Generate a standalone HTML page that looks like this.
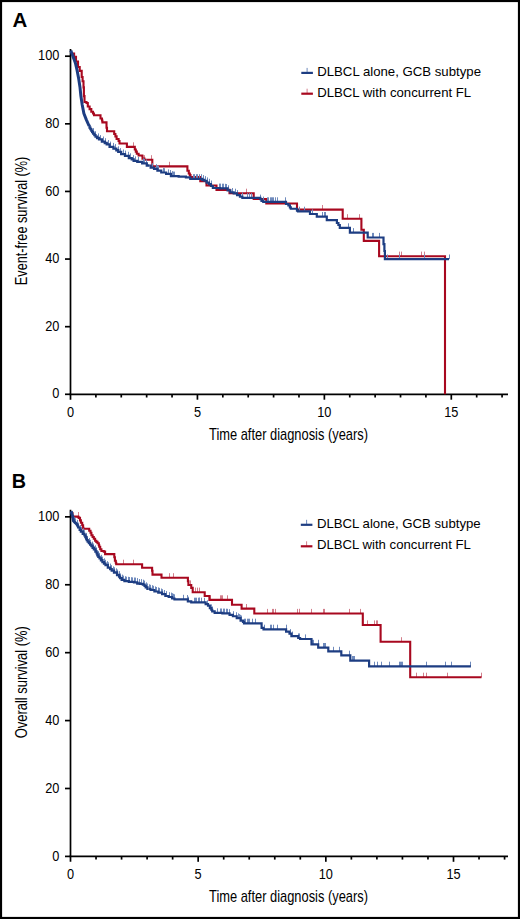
<!DOCTYPE html>
<html><head><meta charset="utf-8"><style>
html,body{margin:0;padding:0;background:#fff;overflow:hidden;}
svg{display:block;}
</style></head><body>
<svg width="520" height="919" viewBox="0 0 520 919">
<rect x="1" y="1" width="518" height="917" fill="#fff" stroke="#000" stroke-width="2.2"/>
<text x="12.4" y="27.3" font-family="&apos;Liberation Sans&apos;, sans-serif" font-weight="bold" font-size="20" textLength="14.8" lengthAdjust="spacingAndGlyphs">A</text>
<text x="11.8" y="487.6" font-family="&apos;Liberation Sans&apos;, sans-serif" font-weight="bold" font-size="20" textLength="14.3" lengthAdjust="spacingAndGlyphs">B</text>
<g stroke="#000" stroke-width="1.7" fill="none">
<line x1="70.5" y1="49.0" x2="70.5" y2="399.7"/>
<line x1="69.6" y1="394.3" x2="508" y2="394.3"/>
<line x1="65" y1="394.30" x2="70.5" y2="394.30"/>
<line x1="65" y1="326.68" x2="70.5" y2="326.68"/>
<line x1="65" y1="259.06" x2="70.5" y2="259.06"/>
<line x1="65" y1="191.44" x2="70.5" y2="191.44"/>
<line x1="65" y1="123.82" x2="70.5" y2="123.82"/>
<line x1="65" y1="56.20" x2="70.5" y2="56.20"/>
<line x1="95.89" y1="394.3" x2="95.89" y2="397.5"/>
<line x1="121.27" y1="394.3" x2="121.27" y2="397.5"/>
<line x1="146.66" y1="394.3" x2="146.66" y2="397.5"/>
<line x1="172.05" y1="394.3" x2="172.05" y2="397.5"/>
<line x1="197.43" y1="394.3" x2="197.43" y2="399.7"/>
<line x1="222.82" y1="394.3" x2="222.82" y2="397.5"/>
<line x1="248.21" y1="394.3" x2="248.21" y2="397.5"/>
<line x1="273.59" y1="394.3" x2="273.59" y2="397.5"/>
<line x1="298.98" y1="394.3" x2="298.98" y2="397.5"/>
<line x1="324.37" y1="394.3" x2="324.37" y2="399.7"/>
<line x1="349.75" y1="394.3" x2="349.75" y2="397.5"/>
<line x1="375.14" y1="394.3" x2="375.14" y2="397.5"/>
<line x1="400.53" y1="394.3" x2="400.53" y2="397.5"/>
<line x1="425.91" y1="394.3" x2="425.91" y2="397.5"/>
<line x1="451.30" y1="394.3" x2="451.30" y2="399.7"/>
<line x1="476.69" y1="394.3" x2="476.69" y2="397.5"/>
<line x1="502.07" y1="394.3" x2="502.07" y2="397.5"/>
</g>
<g font-family="&apos;Liberation Sans&apos;, sans-serif" font-size="14.2" fill="#000" text-anchor="end">
<text x="59.4" y="398.40" textLength="7.1" lengthAdjust="spacingAndGlyphs">0</text>
<text x="59.4" y="330.78" textLength="14.2" lengthAdjust="spacingAndGlyphs">20</text>
<text x="59.4" y="263.16" textLength="14.2" lengthAdjust="spacingAndGlyphs">40</text>
<text x="59.4" y="195.54" textLength="14.2" lengthAdjust="spacingAndGlyphs">60</text>
<text x="59.4" y="127.92" textLength="14.2" lengthAdjust="spacingAndGlyphs">80</text>
<text x="59.4" y="60.30" textLength="21.3" lengthAdjust="spacingAndGlyphs">100</text>
</g>
<g font-family="&apos;Liberation Sans&apos;, sans-serif" font-size="14.2" fill="#000" text-anchor="middle">
<text x="70.50" y="416.90" textLength="7.1" lengthAdjust="spacingAndGlyphs">0</text>
<text x="197.43" y="416.90" textLength="7.1" lengthAdjust="spacingAndGlyphs">5</text>
<text x="324.37" y="416.90" textLength="14.2" lengthAdjust="spacingAndGlyphs">10</text>
<text x="451.30" y="416.90" textLength="14.2" lengthAdjust="spacingAndGlyphs">15</text>
</g>
<text x="209" y="439.90" font-family="&apos;Liberation Sans&apos;, sans-serif" font-size="17" textLength="159" lengthAdjust="spacingAndGlyphs">Time after diagnosis (years)</text>
<text transform="translate(26.7,220.9) rotate(-90)" x="0" y="0" font-family="&apos;Liberation Sans&apos;, sans-serif" font-size="17" text-anchor="middle" textLength="128.5" lengthAdjust="spacingAndGlyphs">Event-free survival (%)</text>
<g stroke="#d27f8c" stroke-width="1"><line x1="133.5" y1="142.3" x2="133.5" y2="146.9"/><line x1="144.5" y1="155.2" x2="144.5" y2="159.8"/><line x1="151.5" y1="155.2" x2="151.5" y2="159.8"/><line x1="169.5" y1="161.8" x2="169.5" y2="166.4"/><line x1="246.5" y1="188.7" x2="246.5" y2="193.3"/><line x1="322.5" y1="205.0" x2="322.5" y2="209.6"/><line x1="347.5" y1="214.2" x2="347.5" y2="218.8"/><line x1="359.5" y1="214.2" x2="359.5" y2="218.8"/><line x1="399.5" y1="251.6" x2="399.5" y2="256.2"/><line x1="401.5" y1="251.6" x2="401.5" y2="256.2"/><line x1="421.5" y1="251.6" x2="421.5" y2="256.2"/><line x1="424.5" y1="251.6" x2="424.5" y2="256.2"/></g>
<path d="M72.00,53.50 74.10,53.50 74.10,56.90 76.00,56.90 76.00,61.50 78.00,61.50 78.00,67.00 79.70,67.00 79.70,70.90 81.70,70.90 81.70,77.00 82.60,77.00 82.60,81.30 83.50,81.30 83.50,87.40 83.90,87.40 83.90,96.10 84.50,96.10 84.50,102.00 86.50,102.00 86.50,103.00 87.80,103.00 87.80,106.50 89.60,106.50 89.60,109.10 91.30,109.10 91.30,111.70 93.00,111.70 93.00,113.50 94.00,113.50 94.00,115.20 100.50,115.20 100.50,115.20 100.50,115.20 100.50,118.50 102.00,118.50 102.00,120.50 102.40,120.50 102.40,122.40 106.30,122.40 106.30,122.40 106.50,122.40 106.50,127.70 107.00,127.70 107.00,131.30 113.80,131.30 113.80,131.30 114.20,131.30 114.20,134.00 115.40,134.00 115.40,136.40 116.60,136.40 116.60,139.00 118.60,139.00 118.60,141.00 119.50,141.00 119.50,143.50 126.90,143.50 126.90,143.50 126.90,143.50 126.90,146.90 134.00,146.90 134.00,146.90 134.80,146.90 134.80,149.50 135.80,149.50 135.80,151.60 136.80,151.60 136.80,153.80 138.60,153.80 138.60,155.50 142.20,155.50 142.20,155.80 142.50,155.80 142.50,158.60 144.40,158.60 144.40,159.80 152.30,159.80 152.30,159.80 152.30,159.80 152.30,166.40 186.90,166.40 186.90,166.40 187.40,166.40 187.40,170.70 188.80,170.70 188.80,173.50 189.80,173.50 189.80,175.00 190.50,175.00 190.50,177.00 200.30,177.00 200.30,177.00 200.30,177.00 200.30,181.20 206.50,181.20 206.50,181.20 206.50,181.20 206.50,185.50 216.50,185.50 216.50,185.50 216.50,185.50 216.50,189.90 229.50,189.90 229.50,189.90 229.50,189.90 229.50,193.30 253.70,193.30 253.70,193.30 253.70,193.30 253.70,199.00 266.30,199.00 266.30,199.00 266.30,199.00 266.30,203.50 297.00,203.50 297.00,203.50 297.00,203.50 297.00,209.60 342.70,209.60 342.70,209.60 342.70,209.60 342.70,218.75 361.40,218.75 361.40,218.75 361.40,218.75 361.40,229.80 363.80,229.80 363.80,229.80 363.80,229.80 363.80,240.90 379.10,240.90 379.10,240.90 379.10,240.90 379.10,256.20 445.00,256.20 445.00,256.20 445.00,256.20 445.00,394.30" fill="none" stroke="#a8081f" stroke-width="2.1" stroke-linejoin="miter"/>
<g stroke="#6f8abc" stroke-width="1"><line x1="93.5" y1="128.1" x2="93.5" y2="132.7"/><line x1="95.5" y1="131.2" x2="95.5" y2="135.8"/><line x1="98.5" y1="133.4" x2="98.5" y2="138.0"/><line x1="100.5" y1="135.1" x2="100.5" y2="139.7"/><line x1="103.5" y1="136.5" x2="103.5" y2="141.1"/><line x1="105.5" y1="138.2" x2="105.5" y2="142.8"/><line x1="108.5" y1="140.0" x2="108.5" y2="144.6"/><line x1="110.5" y1="141.6" x2="110.5" y2="146.2"/><line x1="113.5" y1="142.9" x2="113.5" y2="147.5"/><line x1="115.5" y1="144.1" x2="115.5" y2="148.7"/><line x1="118.5" y1="146.3" x2="118.5" y2="150.9"/><line x1="120.5" y1="148.1" x2="120.5" y2="152.7"/><line x1="123.5" y1="149.5" x2="123.5" y2="154.1"/><line x1="125.5" y1="150.6" x2="125.5" y2="155.2"/><line x1="128.5" y1="151.8" x2="128.5" y2="156.4"/><line x1="130.5" y1="153.3" x2="130.5" y2="157.9"/><line x1="133.5" y1="155.1" x2="133.5" y2="159.7"/><line x1="135.5" y1="156.4" x2="135.5" y2="161.0"/><line x1="138.5" y1="156.9" x2="138.5" y2="161.5"/><line x1="143.5" y1="158.3" x2="143.5" y2="162.9"/><line x1="144.5" y1="158.8" x2="144.5" y2="163.4"/><line x1="146.5" y1="159.5" x2="146.5" y2="164.1"/><line x1="152.5" y1="163.2" x2="152.5" y2="167.8"/><line x1="156.5" y1="164.2" x2="156.5" y2="168.8"/><line x1="157.5" y1="165.2" x2="157.5" y2="169.8"/><line x1="158.5" y1="165.8" x2="158.5" y2="170.4"/><line x1="163.5" y1="167.9" x2="163.5" y2="172.5"/><line x1="164.5" y1="168.2" x2="164.5" y2="172.8"/><line x1="168.5" y1="169.4" x2="168.5" y2="174.0"/><line x1="170.5" y1="170.0" x2="170.5" y2="174.6"/><line x1="172.5" y1="171.1" x2="172.5" y2="175.7"/><line x1="173.5" y1="171.6" x2="173.5" y2="176.2"/><line x1="174.5" y1="171.6" x2="174.5" y2="176.2"/><line x1="193.5" y1="174.2" x2="193.5" y2="178.8"/><line x1="194.5" y1="174.2" x2="194.5" y2="178.8"/><line x1="196.5" y1="174.2" x2="196.5" y2="178.8"/><line x1="197.5" y1="174.2" x2="197.5" y2="178.8"/><line x1="199.5" y1="174.2" x2="199.5" y2="178.8"/><line x1="201.5" y1="174.2" x2="201.5" y2="178.8"/><line x1="203.5" y1="175.1" x2="203.5" y2="179.7"/><line x1="205.5" y1="176.1" x2="205.5" y2="180.7"/><line x1="207.5" y1="177.4" x2="207.5" y2="182.0"/><line x1="209.5" y1="178.8" x2="209.5" y2="183.4"/><line x1="211.5" y1="180.5" x2="211.5" y2="185.1"/><line x1="219.5" y1="183.6" x2="219.5" y2="188.2"/><line x1="220.5" y1="183.6" x2="220.5" y2="188.2"/><line x1="222.5" y1="183.7" x2="222.5" y2="188.3"/><line x1="223.5" y1="183.7" x2="223.5" y2="188.3"/><line x1="225.5" y1="183.8" x2="225.5" y2="188.4"/><line x1="226.5" y1="184.0" x2="226.5" y2="188.6"/><line x1="228.5" y1="185.3" x2="228.5" y2="189.9"/><line x1="232.5" y1="188.0" x2="232.5" y2="192.6"/><line x1="235.5" y1="188.7" x2="235.5" y2="193.3"/><line x1="237.5" y1="190.1" x2="237.5" y2="194.7"/><line x1="242.5" y1="192.6" x2="242.5" y2="197.2"/><line x1="247.5" y1="193.2" x2="247.5" y2="197.8"/><line x1="249.5" y1="193.2" x2="249.5" y2="197.8"/><line x1="251.5" y1="193.2" x2="251.5" y2="197.8"/><line x1="260.5" y1="194.6" x2="260.5" y2="199.2"/><line x1="263.5" y1="196.6" x2="263.5" y2="201.2"/><line x1="267.5" y1="197.3" x2="267.5" y2="201.9"/><line x1="268.5" y1="197.3" x2="268.5" y2="201.9"/><line x1="270.5" y1="197.3" x2="270.5" y2="201.9"/><line x1="271.5" y1="197.3" x2="271.5" y2="201.9"/><line x1="272.5" y1="197.3" x2="272.5" y2="201.9"/><line x1="273.5" y1="197.3" x2="273.5" y2="201.9"/><line x1="275.5" y1="197.3" x2="275.5" y2="201.9"/><line x1="277.5" y1="197.3" x2="277.5" y2="201.9"/><line x1="285.5" y1="197.3" x2="285.5" y2="201.9"/><line x1="299.5" y1="206.7" x2="299.5" y2="211.3"/><line x1="304.5" y1="206.7" x2="304.5" y2="211.3"/><line x1="312.5" y1="209.4" x2="312.5" y2="214.0"/><line x1="322.5" y1="212.0" x2="322.5" y2="216.6"/><line x1="324.5" y1="212.0" x2="324.5" y2="216.6"/><line x1="325.5" y1="212.0" x2="325.5" y2="216.6"/><line x1="348.5" y1="223.3" x2="348.5" y2="227.9"/><line x1="353.5" y1="228.1" x2="353.5" y2="232.7"/><line x1="372.5" y1="232.9" x2="372.5" y2="237.5"/><line x1="373.5" y1="232.9" x2="373.5" y2="237.5"/><line x1="379.5" y1="232.9" x2="379.5" y2="237.5"/><line x1="387.5" y1="254.5" x2="387.5" y2="259.1"/><line x1="399.5" y1="254.5" x2="399.5" y2="259.1"/><line x1="424.5" y1="254.5" x2="424.5" y2="259.1"/><line x1="449.5" y1="254.5" x2="449.5" y2="259.1"/></g>
<path d="M70.80,50.50 73.20,57.00 75.40,63.00 77.00,70.00 78.70,78.70 80.00,87.40 80.90,96.10 82.20,104.80 83.90,113.50 86.30,119.60 89.10,126.00" fill="none" stroke="#1d3d82" stroke-width="3.0" stroke-linejoin="round"/>
<path d="M89.10,126.00 89.54,126.00 89.54,127.55 90.41,127.55 90.41,129.10 91.29,129.10 91.29,130.65 92.16,130.65 92.16,132.20 92.60,132.20 93.18,132.20 93.18,133.67 94.35,133.67 94.35,135.13 95.52,135.13 95.52,136.60 96.10,136.60 97.07,136.60 97.07,138.00 99.03,138.00 99.03,139.40 100.00,139.40 101.90,139.40 101.90,141.60 103.80,141.60 104.78,141.60 104.78,143.00 106.72,143.00 106.72,144.40 107.70,144.40 109.60,144.40 109.60,146.80 111.50,146.80 113.45,146.80 113.45,148.60 115.40,148.60 116.35,148.60 116.35,150.25 118.25,150.25 118.25,151.90 119.20,151.90 121.15,151.90 121.15,154.20 123.10,154.20 125.00,154.20 125.00,155.80 126.90,155.80 128.85,155.80 128.85,158.10 130.80,158.10 131.75,158.10 131.75,159.45 133.65,159.45 133.65,160.80 134.60,160.80 137.30,160.80 137.30,161.90 140.00,161.90 142.20,161.90 142.20,163.40 144.40,163.40 146.80,163.40 146.80,165.50 149.20,165.50" fill="none" stroke="#1d3d82" stroke-width="2.3" stroke-linejoin="miter"/>
<path d="M149.20,165.50 150.65,165.50 150.65,167.60 152.10,167.60 154.05,167.60 154.05,168.80 156.00,168.80 157.40,168.80 157.40,170.60 158.80,170.60 161.25,170.60 161.25,172.50 163.70,172.50 166.10,172.50 166.10,173.90 168.50,173.90 170.90,173.90 170.90,176.20 173.30,176.20 178.65,176.20 178.65,176.60 184.00,176.60 185.90,176.60 185.90,177.40 187.80,177.40 190.25,177.40 190.25,178.80 192.70,178.80 201.30,178.80 202.25,178.80 202.25,179.80 203.20,179.80 204.20,179.80 204.20,180.75 205.20,180.75 206.60,180.75 206.60,182.70 208.00,182.70 209.00,182.70 209.00,184.10 210.00,184.10 210.95,184.10 210.95,186.00 211.90,186.00 212.85,186.00 212.85,188.00 213.80,188.00 220.05,188.00 220.05,188.40 226.30,188.40 227.60,188.40 227.60,190.40 228.90,190.40 230.35,190.40 230.35,192.30 231.80,192.30 233.70,192.30 233.70,193.30 235.60,193.30 237.05,193.30 237.05,195.20 238.50,195.20 239.95,195.20 239.95,196.60 241.40,196.60 242.35,196.60 242.35,197.80 243.30,197.80 260.20,197.80 260.35,197.80 260.35,199.20 260.50,199.20 261.50,199.20 261.50,200.80 262.50,200.80 263.25,200.80 263.25,201.90 264.00,201.90 286.00,201.90 286.00,204.00 288.40,204.00 288.40,205.40 289.90,205.40 289.90,207.30 290.80,207.30 290.80,208.75 297.00,208.75 297.00,210.70 298.00,210.70 298.00,211.30 310.00,211.30 310.00,214.00 316.80,214.00 316.80,216.60 326.80,216.60 326.80,220.20 336.90,220.20 336.90,223.00 338.40,223.00 338.40,225.00 339.80,225.00 339.80,227.90 349.90,227.90 349.90,232.70 367.70,232.70 367.70,237.50 383.50,237.50 383.50,244.20 384.40,244.20 384.40,251.00 384.90,251.00 384.90,259.10 449.00,259.10" fill="none" stroke="#1d3d82" stroke-width="2.2" stroke-linejoin="miter"/>
<line x1="307.1" y1="67.9" x2="307.1" y2="72.9" stroke="#6f8abc" stroke-width="1"/>
<line x1="301.3" y1="72.9" x2="312.90000000000003" y2="72.9" stroke="#1d3d82" stroke-width="2.2"/>
<text x="317.2" y="76.0" font-family="&apos;Liberation Sans&apos;, sans-serif" font-size="12.6" textLength="163.8" lengthAdjust="spacingAndGlyphs">DLBCL alone, GCB subtype</text>
<line x1="307.1" y1="88.7" x2="307.1" y2="93.7" stroke="#d27f8c" stroke-width="1"/>
<line x1="301.3" y1="93.7" x2="312.90000000000003" y2="93.7" stroke="#a8081f" stroke-width="2.2"/>
<text x="317.2" y="96.8" font-family="&apos;Liberation Sans&apos;, sans-serif" font-size="12.6" textLength="154.0" lengthAdjust="spacingAndGlyphs">DLBCL with concurrent FL</text>
<g stroke="#000" stroke-width="1.7" fill="none">
<line x1="70.5" y1="509.7" x2="70.5" y2="861.8"/>
<line x1="69.6" y1="856.4" x2="508" y2="856.4"/>
<line x1="65" y1="856.40" x2="70.5" y2="856.40"/>
<line x1="65" y1="788.49" x2="70.5" y2="788.49"/>
<line x1="65" y1="720.58" x2="70.5" y2="720.58"/>
<line x1="65" y1="652.67" x2="70.5" y2="652.67"/>
<line x1="65" y1="584.76" x2="70.5" y2="584.76"/>
<line x1="65" y1="516.85" x2="70.5" y2="516.85"/>
<line x1="96.03" y1="856.4" x2="96.03" y2="859.6"/>
<line x1="121.57" y1="856.4" x2="121.57" y2="859.6"/>
<line x1="147.10" y1="856.4" x2="147.10" y2="859.6"/>
<line x1="172.63" y1="856.4" x2="172.63" y2="859.6"/>
<line x1="198.17" y1="856.4" x2="198.17" y2="861.8"/>
<line x1="223.70" y1="856.4" x2="223.70" y2="859.6"/>
<line x1="249.23" y1="856.4" x2="249.23" y2="859.6"/>
<line x1="274.77" y1="856.4" x2="274.77" y2="859.6"/>
<line x1="300.30" y1="856.4" x2="300.30" y2="859.6"/>
<line x1="325.83" y1="856.4" x2="325.83" y2="861.8"/>
<line x1="351.37" y1="856.4" x2="351.37" y2="859.6"/>
<line x1="376.90" y1="856.4" x2="376.90" y2="859.6"/>
<line x1="402.43" y1="856.4" x2="402.43" y2="859.6"/>
<line x1="427.97" y1="856.4" x2="427.97" y2="859.6"/>
<line x1="453.50" y1="856.4" x2="453.50" y2="861.8"/>
<line x1="479.03" y1="856.4" x2="479.03" y2="859.6"/>
<line x1="504.57" y1="856.4" x2="504.57" y2="859.6"/>
</g>
<g font-family="&apos;Liberation Sans&apos;, sans-serif" font-size="14.2" fill="#000" text-anchor="end">
<text x="59.4" y="860.50" textLength="7.1" lengthAdjust="spacingAndGlyphs">0</text>
<text x="59.4" y="792.59" textLength="14.2" lengthAdjust="spacingAndGlyphs">20</text>
<text x="59.4" y="724.68" textLength="14.2" lengthAdjust="spacingAndGlyphs">40</text>
<text x="59.4" y="656.77" textLength="14.2" lengthAdjust="spacingAndGlyphs">60</text>
<text x="59.4" y="588.86" textLength="14.2" lengthAdjust="spacingAndGlyphs">80</text>
<text x="59.4" y="520.95" textLength="21.3" lengthAdjust="spacingAndGlyphs">100</text>
</g>
<g font-family="&apos;Liberation Sans&apos;, sans-serif" font-size="14.2" fill="#000" text-anchor="middle">
<text x="70.50" y="879.00" textLength="7.1" lengthAdjust="spacingAndGlyphs">0</text>
<text x="198.17" y="879.00" textLength="7.1" lengthAdjust="spacingAndGlyphs">5</text>
<text x="325.83" y="879.00" textLength="14.2" lengthAdjust="spacingAndGlyphs">10</text>
<text x="453.50" y="879.00" textLength="14.2" lengthAdjust="spacingAndGlyphs">15</text>
</g>
<text x="209" y="902.00" font-family="&apos;Liberation Sans&apos;, sans-serif" font-size="17" textLength="159" lengthAdjust="spacingAndGlyphs">Time after diagnosis (years)</text>
<text transform="translate(26.7,682.2) rotate(-90)" x="0" y="0" font-family="&apos;Liberation Sans&apos;, sans-serif" font-size="17" text-anchor="middle" textLength="112.2" lengthAdjust="spacingAndGlyphs">Overall survival (%)</text>
<g stroke="#d27f8c" stroke-width="1"><line x1="73.5" y1="512.0" x2="73.5" y2="516.6"/><line x1="78.5" y1="512.0" x2="78.5" y2="516.6"/><line x1="123.5" y1="559.7" x2="123.5" y2="564.3"/><line x1="133.5" y1="559.7" x2="133.5" y2="564.3"/><line x1="169.5" y1="573.2" x2="169.5" y2="577.8"/><line x1="173.5" y1="573.2" x2="173.5" y2="577.8"/><line x1="190.5" y1="580.4" x2="190.5" y2="585.0"/><line x1="195.5" y1="587.6" x2="195.5" y2="592.2"/><line x1="197.5" y1="587.6" x2="197.5" y2="592.2"/><line x1="199.5" y1="587.6" x2="199.5" y2="592.2"/><line x1="210.5" y1="595.3" x2="210.5" y2="599.9"/><line x1="220.5" y1="595.3" x2="220.5" y2="599.9"/><line x1="221.5" y1="595.3" x2="221.5" y2="599.9"/><line x1="222.5" y1="595.3" x2="222.5" y2="599.9"/><line x1="227.5" y1="595.3" x2="227.5" y2="599.9"/><line x1="246.5" y1="604.0" x2="246.5" y2="608.6"/><line x1="267.5" y1="608.9" x2="267.5" y2="613.5"/><line x1="272.5" y1="608.9" x2="272.5" y2="613.5"/><line x1="273.5" y1="608.9" x2="273.5" y2="613.5"/><line x1="275.5" y1="608.9" x2="275.5" y2="613.5"/><line x1="297.5" y1="608.9" x2="297.5" y2="613.5"/><line x1="299.5" y1="608.9" x2="299.5" y2="613.5"/><line x1="299.5" y1="608.9" x2="299.5" y2="613.5"/><line x1="311.5" y1="608.9" x2="311.5" y2="613.5"/><line x1="323.5" y1="608.9" x2="323.5" y2="613.5"/><line x1="324.5" y1="608.9" x2="324.5" y2="613.5"/><line x1="349.5" y1="608.9" x2="349.5" y2="613.5"/><line x1="360.5" y1="608.9" x2="360.5" y2="613.5"/><line x1="367.5" y1="620.4" x2="367.5" y2="625.0"/><line x1="374.5" y1="620.4" x2="374.5" y2="625.0"/><line x1="376.5" y1="620.4" x2="376.5" y2="625.0"/><line x1="377.5" y1="620.4" x2="377.5" y2="625.0"/><line x1="401.5" y1="637.2" x2="401.5" y2="641.8"/><line x1="416.5" y1="672.7" x2="416.5" y2="677.3"/><line x1="423.5" y1="672.7" x2="423.5" y2="677.3"/><line x1="426.5" y1="672.7" x2="426.5" y2="677.3"/><line x1="447.5" y1="672.7" x2="447.5" y2="677.3"/><line x1="481.5" y1="672.7" x2="481.5" y2="677.3"/></g>
<path d="M71.20,516.60 78.30,516.60 78.30,517.30 78.80,517.30 78.80,517.90 80.00,517.90 80.00,520.40 80.90,520.40 80.90,522.80 82.20,522.80 82.20,525.30 83.10,525.30 83.10,527.80 83.40,527.80 83.40,528.70 88.90,528.70 88.90,528.70 89.20,528.70 89.20,530.80 90.50,530.80 90.50,532.70 91.40,532.70 91.40,535.20 92.60,535.20 92.60,537.00 93.80,537.00 93.80,538.80 95.10,538.80 95.10,540.70 96.30,540.70 96.30,541.90 97.50,541.90 97.50,543.20 98.80,543.20 98.80,545.00 99.20,545.00 99.20,546.70 100.20,546.70 100.20,549.20 101.40,549.20 101.40,551.00 103.80,551.00 103.80,551.60 105.10,551.60 105.10,553.50 105.10,553.50 105.10,554.10 114.30,554.10 114.30,554.10 114.30,554.10 114.30,557.20 114.90,557.20 114.90,560.80 115.80,560.80 115.80,562.70 116.20,562.70 116.20,564.30 142.10,564.30 142.10,564.30 142.10,564.30 142.10,567.70 152.10,567.70 152.10,567.70 152.10,567.70 152.10,570.80 152.50,570.80 152.50,574.60 161.50,574.60 161.50,574.60 161.50,574.60 161.50,577.80 187.40,577.80 187.40,577.80 187.90,577.80 187.90,581.20 188.40,581.20 188.40,585.00 190.80,585.00 190.80,585.00 191.25,585.00 191.25,587.90 192.70,587.90 192.70,592.20 204.40,592.20 204.40,592.20 204.70,592.20 204.70,596.00 209.40,596.00 209.40,596.00 209.40,596.00 209.40,599.90 232.00,599.90 232.00,599.90 232.00,599.90 232.00,604.70 241.60,604.70 241.60,604.70 241.60,604.70 241.60,608.60 254.30,608.60 254.30,608.60 254.30,608.60 254.30,613.50 362.80,613.50 362.80,613.50 362.80,613.50 362.80,625.00 380.60,625.00 380.60,625.00 380.60,625.00 380.60,641.80 410.20,641.80 410.20,641.80 410.20,641.80 410.20,677.30 481.50,677.30 481.50,677.30" fill="none" stroke="#a8081f" stroke-width="2.1" stroke-linejoin="miter"/>
<g stroke="#6f8abc" stroke-width="1"><line x1="72.5" y1="511.2" x2="72.5" y2="515.8"/><line x1="74.5" y1="516.9" x2="74.5" y2="521.5"/><line x1="75.5" y1="518.3" x2="75.5" y2="522.9"/><line x1="77.5" y1="519.9" x2="77.5" y2="524.5"/><line x1="78.5" y1="522.6" x2="78.5" y2="527.2"/><line x1="80.5" y1="525.0" x2="80.5" y2="529.6"/><line x1="81.5" y1="526.9" x2="81.5" y2="531.5"/><line x1="83.5" y1="528.3" x2="83.5" y2="532.9"/><line x1="84.5" y1="530.2" x2="84.5" y2="534.8"/><line x1="86.5" y1="532.9" x2="86.5" y2="537.5"/><line x1="87.5" y1="536.0" x2="87.5" y2="540.6"/><line x1="89.5" y1="538.0" x2="89.5" y2="542.6"/><line x1="90.5" y1="539.8" x2="90.5" y2="544.4"/><line x1="92.5" y1="541.6" x2="92.5" y2="546.2"/><line x1="93.5" y1="543.5" x2="93.5" y2="548.1"/><line x1="95.5" y1="545.3" x2="95.5" y2="549.9"/><line x1="96.5" y1="547.4" x2="96.5" y2="552.0"/><line x1="98.5" y1="551.1" x2="98.5" y2="555.7"/><line x1="99.5" y1="552.9" x2="99.5" y2="557.5"/><line x1="101.5" y1="554.8" x2="101.5" y2="559.4"/><line x1="102.5" y1="556.6" x2="102.5" y2="561.2"/><line x1="104.5" y1="558.3" x2="104.5" y2="562.9"/><line x1="105.5" y1="559.8" x2="105.5" y2="564.4"/><line x1="107.5" y1="561.1" x2="107.5" y2="565.7"/><line x1="108.5" y1="562.3" x2="108.5" y2="566.9"/><line x1="110.5" y1="563.6" x2="110.5" y2="568.2"/><line x1="111.5" y1="565.1" x2="111.5" y2="569.7"/><line x1="113.5" y1="566.4" x2="113.5" y2="571.0"/><line x1="114.5" y1="567.3" x2="114.5" y2="571.9"/><line x1="116.5" y1="568.3" x2="116.5" y2="572.9"/><line x1="117.5" y1="569.5" x2="117.5" y2="574.1"/><line x1="119.5" y1="571.1" x2="119.5" y2="575.7"/><line x1="120.5" y1="573.5" x2="120.5" y2="578.1"/><line x1="122.5" y1="574.6" x2="122.5" y2="579.2"/><line x1="123.5" y1="575.6" x2="123.5" y2="580.2"/><line x1="125.5" y1="576.2" x2="125.5" y2="580.8"/><line x1="126.5" y1="576.7" x2="126.5" y2="581.3"/><line x1="128.5" y1="576.8" x2="128.5" y2="581.4"/><line x1="129.5" y1="577.0" x2="129.5" y2="581.6"/><line x1="131.5" y1="577.2" x2="131.5" y2="581.8"/><line x1="132.5" y1="577.4" x2="132.5" y2="582.0"/><line x1="134.5" y1="577.5" x2="134.5" y2="582.1"/><line x1="135.5" y1="577.6" x2="135.5" y2="582.2"/><line x1="137.5" y1="578.1" x2="137.5" y2="582.7"/><line x1="139.5" y1="579.0" x2="139.5" y2="583.6"/><line x1="141.5" y1="579.1" x2="141.5" y2="583.7"/><line x1="143.5" y1="579.7" x2="143.5" y2="584.3"/><line x1="144.5" y1="580.6" x2="144.5" y2="585.2"/><line x1="146.5" y1="582.3" x2="146.5" y2="586.9"/><line x1="147.5" y1="583.5" x2="147.5" y2="588.1"/><line x1="149.5" y1="584.3" x2="149.5" y2="588.9"/><line x1="150.5" y1="584.8" x2="150.5" y2="589.4"/><line x1="152.5" y1="585.2" x2="152.5" y2="589.8"/><line x1="153.5" y1="585.8" x2="153.5" y2="590.4"/><line x1="155.5" y1="586.4" x2="155.5" y2="591.0"/><line x1="156.5" y1="587.0" x2="156.5" y2="591.6"/><line x1="158.5" y1="587.4" x2="158.5" y2="592.0"/><line x1="159.5" y1="587.9" x2="159.5" y2="592.5"/><line x1="161.5" y1="588.5" x2="161.5" y2="593.1"/><line x1="162.5" y1="589.2" x2="162.5" y2="593.8"/><line x1="164.5" y1="590.0" x2="164.5" y2="594.6"/><line x1="166.5" y1="591.1" x2="166.5" y2="595.7"/><line x1="169.5" y1="592.2" x2="169.5" y2="596.8"/><line x1="171.5" y1="592.6" x2="171.5" y2="597.2"/><line x1="172.5" y1="593.2" x2="172.5" y2="597.8"/><line x1="173.5" y1="593.8" x2="173.5" y2="598.4"/><line x1="174.5" y1="594.3" x2="174.5" y2="598.9"/><line x1="183.5" y1="594.8" x2="183.5" y2="599.4"/><line x1="187.5" y1="595.0" x2="187.5" y2="599.6"/><line x1="188.5" y1="596.7" x2="188.5" y2="601.3"/><line x1="194.5" y1="597.7" x2="194.5" y2="602.3"/><line x1="195.5" y1="597.7" x2="195.5" y2="602.3"/><line x1="196.5" y1="597.7" x2="196.5" y2="602.3"/><line x1="198.5" y1="597.7" x2="198.5" y2="602.3"/><line x1="199.5" y1="597.7" x2="199.5" y2="602.3"/><line x1="199.5" y1="597.7" x2="199.5" y2="602.3"/><line x1="201.5" y1="597.7" x2="201.5" y2="602.3"/><line x1="204.5" y1="597.8" x2="204.5" y2="602.4"/><line x1="207.5" y1="600.3" x2="207.5" y2="604.9"/><line x1="211.5" y1="604.4" x2="211.5" y2="609.0"/><line x1="212.5" y1="606.5" x2="212.5" y2="611.1"/><line x1="217.5" y1="608.3" x2="217.5" y2="612.9"/><line x1="220.5" y1="608.5" x2="220.5" y2="613.1"/><line x1="221.5" y1="608.5" x2="221.5" y2="613.1"/><line x1="223.5" y1="608.6" x2="223.5" y2="613.2"/><line x1="224.5" y1="608.6" x2="224.5" y2="613.2"/><line x1="226.5" y1="608.7" x2="226.5" y2="613.3"/><line x1="227.5" y1="608.8" x2="227.5" y2="613.4"/><line x1="229.5" y1="609.2" x2="229.5" y2="613.8"/><line x1="233.5" y1="611.2" x2="233.5" y2="615.8"/><line x1="236.5" y1="612.2" x2="236.5" y2="616.9"/><line x1="238.5" y1="613.4" x2="238.5" y2="618.0"/><line x1="239.5" y1="614.1" x2="239.5" y2="618.7"/><line x1="240.5" y1="614.8" x2="240.5" y2="619.4"/><line x1="241.5" y1="615.5" x2="241.5" y2="620.1"/><line x1="244.5" y1="618.7" x2="244.5" y2="623.3"/><line x1="245.5" y1="618.7" x2="245.5" y2="623.3"/><line x1="247.5" y1="618.7" x2="247.5" y2="623.3"/><line x1="248.5" y1="618.7" x2="248.5" y2="623.3"/><line x1="249.5" y1="618.7" x2="249.5" y2="623.3"/><line x1="252.5" y1="618.7" x2="252.5" y2="623.3"/><line x1="255.5" y1="618.7" x2="255.5" y2="623.3"/><line x1="261.5" y1="623.3" x2="261.5" y2="627.9"/><line x1="264.5" y1="624.7" x2="264.5" y2="629.3"/><line x1="270.5" y1="624.7" x2="270.5" y2="629.3"/><line x1="271.5" y1="624.7" x2="271.5" y2="629.3"/><line x1="273.5" y1="624.7" x2="273.5" y2="629.3"/><line x1="277.5" y1="624.7" x2="277.5" y2="629.3"/><line x1="286.5" y1="624.7" x2="286.5" y2="629.3"/><line x1="290.5" y1="629.1" x2="290.5" y2="633.7"/><line x1="292.5" y1="631.5" x2="292.5" y2="636.1"/><line x1="298.5" y1="633.4" x2="298.5" y2="638.0"/><line x1="299.5" y1="633.4" x2="299.5" y2="638.0"/><line x1="305.5" y1="634.4" x2="305.5" y2="639.0"/><line x1="312.5" y1="639.8" x2="312.5" y2="644.4"/><line x1="313.5" y1="639.8" x2="313.5" y2="644.4"/><line x1="318.5" y1="639.8" x2="318.5" y2="644.4"/><line x1="323.5" y1="643.0" x2="323.5" y2="647.6"/><line x1="324.5" y1="643.0" x2="324.5" y2="647.6"/><line x1="325.5" y1="643.0" x2="325.5" y2="647.6"/><line x1="325.5" y1="643.0" x2="325.5" y2="647.6"/><line x1="333.5" y1="646.8" x2="333.5" y2="651.4"/><line x1="339.5" y1="646.8" x2="339.5" y2="651.4"/><line x1="349.5" y1="650.7" x2="349.5" y2="655.3"/><line x1="352.5" y1="656.0" x2="352.5" y2="660.6"/><line x1="353.5" y1="656.0" x2="353.5" y2="660.6"/><line x1="354.5" y1="656.0" x2="354.5" y2="660.6"/><line x1="374.5" y1="661.7" x2="374.5" y2="666.3"/><line x1="377.5" y1="661.7" x2="377.5" y2="666.3"/><line x1="381.5" y1="661.7" x2="381.5" y2="666.3"/><line x1="389.5" y1="661.7" x2="389.5" y2="666.3"/><line x1="399.5" y1="661.7" x2="399.5" y2="666.3"/><line x1="400.5" y1="661.7" x2="400.5" y2="666.3"/><line x1="401.5" y1="661.7" x2="401.5" y2="666.3"/><line x1="402.5" y1="661.7" x2="402.5" y2="666.3"/><line x1="426.5" y1="661.7" x2="426.5" y2="666.3"/><line x1="445.5" y1="661.7" x2="445.5" y2="666.3"/><line x1="451.5" y1="661.7" x2="451.5" y2="666.3"/><line x1="470.5" y1="661.7" x2="470.5" y2="666.3"/></g>
<path d="M71.10,511.20 72.60,516.10 73.50,521.00 75.40,522.80 77.20,524.70 79.10,528.40" fill="none" stroke="#1d3d82" stroke-width="3.0" stroke-linejoin="round"/>
<path d="M79.10,528.40 79.70,528.40 79.70,529.95 80.90,529.95 80.90,531.50 81.50,531.50 82.75,531.50 82.75,533.90 84.00,533.90 84.45,533.90 84.45,535.45 85.35,535.45 85.35,537.00 85.80,537.00 86.12,537.00 86.12,538.55 86.77,538.55 86.77,540.10 87.10,540.10 87.70,540.10 87.70,541.65 88.90,541.65 88.90,543.20 89.50,543.20 90.12,543.20 90.12,544.70 91.38,544.70 91.38,546.20 92.00,546.20 92.62,546.20 92.62,547.75 93.88,547.75 93.88,549.30 94.50,549.30 95.40,549.30 95.40,551.50 96.30,551.50 96.65,551.50 96.65,553.40 97.35,553.40 97.35,555.30 97.70,555.30 98.33,555.30 98.33,556.85 99.58,556.85 99.58,558.40 100.20,558.40 100.95,558.40 100.95,560.25 102.45,560.25 102.45,562.10 103.20,562.10 103.97,562.10 103.97,563.65 105.53,563.65 105.53,565.20 106.30,565.20 107.85,565.20 107.85,567.60 109.40,567.60 110.18,567.60 110.18,569.15 111.72,569.15 111.72,570.70 112.50,570.70 114.00,570.70 114.00,572.50 115.50,572.50 117.05,572.50 117.05,575.00 118.60,575.00 119.07,575.00 119.07,576.55 120.03,576.55 120.03,578.10 120.50,578.10 121.70,578.10 121.70,579.90 122.90,579.90 124.45,579.90 124.45,581.20 126.00,581.20 128.85,581.20 128.85,581.90 131.70,581.90 134.00,581.90 134.00,582.30 136.30,582.30 137.25,582.30 137.25,583.50 138.20,583.50 139.95,583.50 139.95,583.80 141.70,583.80 142.85,583.80 142.85,584.60 144.00,584.60 144.57,584.60 144.57,585.95 145.73,585.95 145.73,587.30 146.30,587.30 147.45,587.30 147.45,588.80 148.60,588.80" fill="none" stroke="#1d3d82" stroke-width="2.3" stroke-linejoin="miter"/>
<path d="M148.60,588.80 150.55,588.80 150.55,590.00 152.50,590.00 154.40,590.00 154.40,591.50 156.30,591.50 158.25,591.50 158.25,592.70 160.20,592.70 162.10,592.70 162.10,594.20 164.00,594.20 165.35,594.20 165.35,596.00 166.70,596.00 168.65,596.00 168.65,597.00 170.60,597.00 172.05,597.00 172.05,598.50 173.50,598.50 174.45,598.50 174.45,599.40 175.40,599.40 186.90,599.40 187.85,599.40 187.85,601.30 188.80,601.30 191.25,601.30 191.25,602.30 193.70,602.30 204.20,602.30 205.65,602.30 205.65,604.20 207.10,604.20 208.00,604.20 208.00,605.70 208.90,605.70 209.85,605.70 209.85,608.10 210.80,608.10 211.28,608.10 211.28,609.75 212.22,609.75 212.22,611.40 212.70,611.40 214.65,611.40 214.65,612.90 216.60,612.90 222.35,612.90 222.35,613.40 228.10,613.40 229.55,613.40 229.55,614.80 231.00,614.80 232.90,614.80 232.90,616.25 234.80,616.25 236.75,616.25 236.75,618.20 238.70,618.20 240.60,618.20 240.60,620.60 242.50,620.60 243.00,620.60 243.00,621.95 244.00,621.95 244.00,623.30 244.50,623.30 261.60,623.30 261.60,627.90 263.50,627.90 263.50,629.30 286.10,629.30 286.10,631.70 289.50,631.70 289.50,633.70 291.40,633.70 291.40,636.10 298.20,636.10 298.20,638.00 300.10,638.00 300.10,639.00 311.50,639.00 311.50,644.40 318.20,644.40 318.20,647.60 328.30,647.60 328.30,651.40 341.30,651.40 341.30,655.30 350.30,655.30 350.30,660.60 369.10,660.60 369.10,666.30 470.90,666.30" fill="none" stroke="#1d3d82" stroke-width="2.2" stroke-linejoin="miter"/>
<line x1="306.6" y1="519.8" x2="306.6" y2="524.8" stroke="#6f8abc" stroke-width="1"/>
<line x1="300.8" y1="524.8" x2="312.40000000000003" y2="524.8" stroke="#1d3d82" stroke-width="2.2"/>
<text x="316.9" y="527.9" font-family="&apos;Liberation Sans&apos;, sans-serif" font-size="12.6" textLength="163.8" lengthAdjust="spacingAndGlyphs">DLBCL alone, GCB subtype</text>
<line x1="306.6" y1="541.3" x2="306.6" y2="546.3" stroke="#d27f8c" stroke-width="1"/>
<line x1="300.8" y1="546.3" x2="312.40000000000003" y2="546.3" stroke="#a8081f" stroke-width="2.2"/>
<text x="316.9" y="549.4" font-family="&apos;Liberation Sans&apos;, sans-serif" font-size="12.6" textLength="154.0" lengthAdjust="spacingAndGlyphs">DLBCL with concurrent FL</text>
</svg>
</body></html>
